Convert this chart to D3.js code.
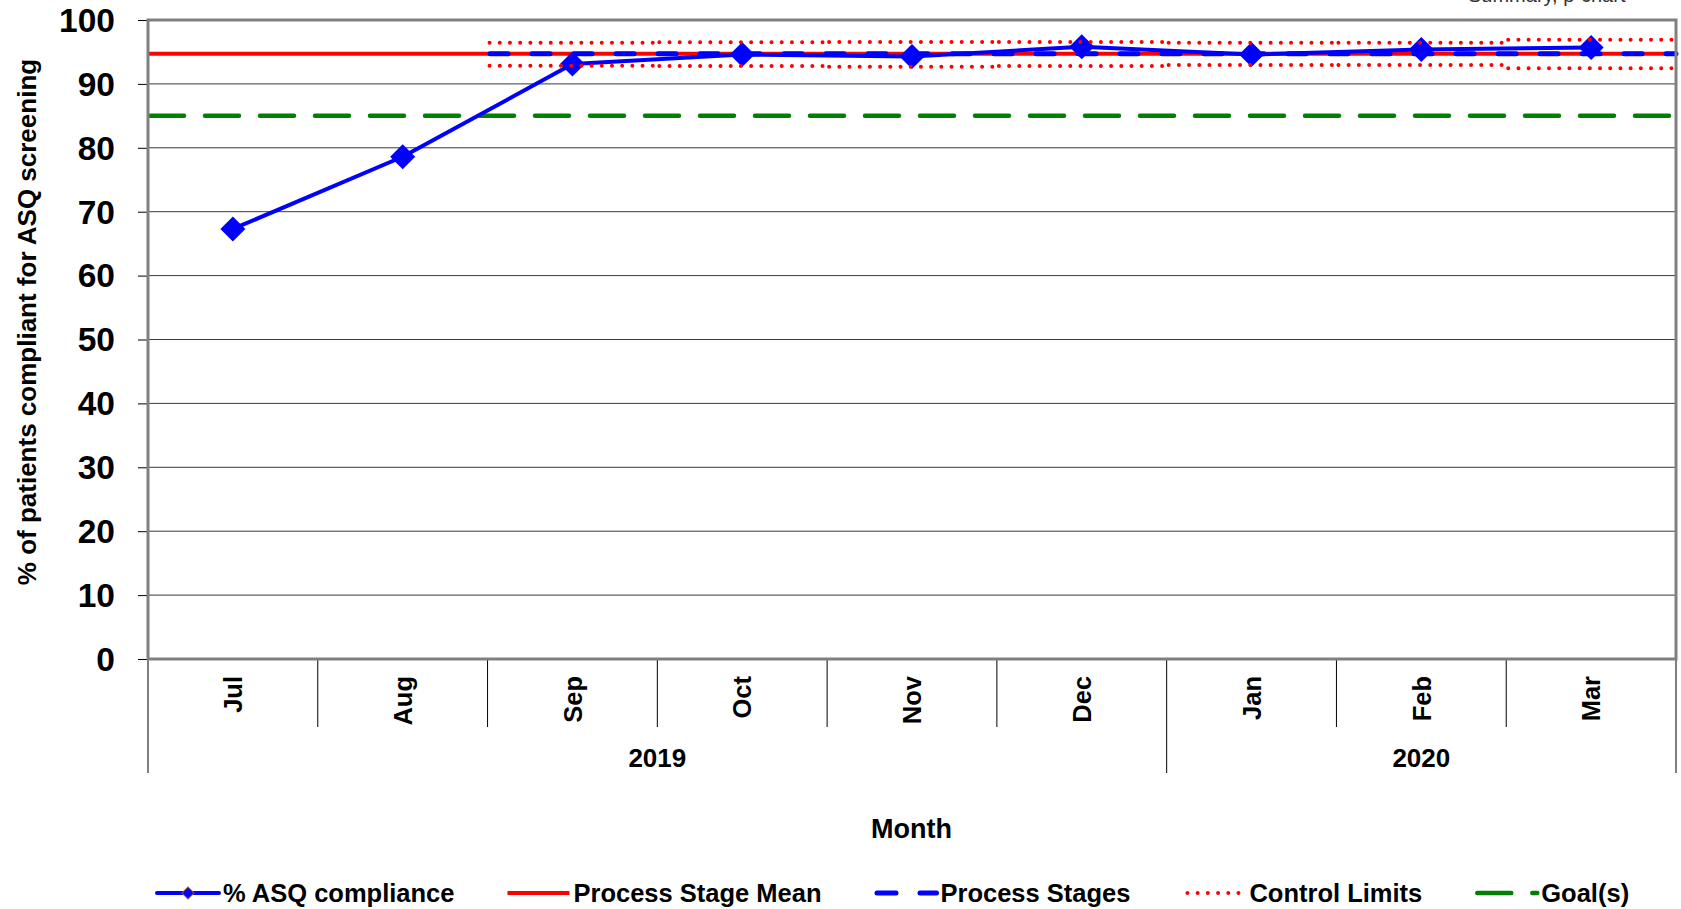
<!DOCTYPE html>
<html>
<head>
<meta charset="utf-8">
<script src="https://cdn.jsdelivr.net/npm/d3@7"></script>
<style>
  html, body { margin: 0; padding: 0; background: #fff; }
  svg { display: block; font-family: "Liberation Sans", Arial, sans-serif; }
</style>
</head>
<body>
<svg id="chart" width="1681" height="909"></svg>
<script>
// ---------------- data ----------------
const months = ["Jul", "Aug", "Sep", "Oct", "Nov", "Dec", "Jan", "Feb", "Mar"];
const years = ["2019", "2019", "2019", "2019", "2019", "2019", "2020", "2020", "2020"];
const compliance = [67.3, 78.6, 93.1, 94.6, 94.3, 95.8, 94.6, 95.4, 95.7];
const stageMonths = ["Sep", "Oct", "Nov", "Dec", "Jan", "Feb", "Mar"];
const upperLimits = [96.45, 96.5, 96.55, 96.55, 96.45, 96.45, 96.9];
const lowerLimits = [92.85, 92.8, 92.7, 92.8, 92.95, 92.95, 92.45];
const stageMean = 94.7;
const goal = 85;
const yTicks = [0, 10, 20, 30, 40, 50, 60, 70, 80, 90, 100];
const legendLabels = ["% ASQ compliance", "Process Stage Mean", "Process Stages", "Control Limits", "Goal(s)"];
const yTitle = "% of patients compliant for ASQ screening";
const xTitle = "Month";
const cornerNote = "Summary, p-chart";

// ---------------- layout ----------------
const svg = d3.select("#chart");
const L = 148, R = 1676, T = 20, B = 659;
const x = d3.scaleBand().domain(months).range([L, R]).padding(0);
const y = d3.scaleLinear().domain([0, 100]).range([B, T]);
const bw = x.bandwidth();
const cx = m => x(m) + bw / 2;
const FONT_BOLD = 700;

// corner note (cut off at the top, as in the source)
svg.append("text")
  .attr("x", 1468).attr("y", 1.5)
  .attr("text-anchor", "start")
  .attr("font-size", 20).attr("fill", "#333")
  .text(cornerNote);

// gridlines
svg.append("g").selectAll("line")
  .data(yTicks.filter(v => v > 0 && v < 100))
  .join("line")
  .attr("x1", L).attr("x2", R)
  .attr("y1", d => y(d)).attr("y2", d => y(d))
  .attr("stroke", "#3a3a3a").attr("stroke-width", 1);

// y axis ticks + labels
const yAxis = d3.axisLeft(y).tickValues(yTicks).tickSize(10).tickPadding(23).tickFormat(d3.format("d"));
const yg = svg.append("g").attr("transform", `translate(${L},0)`).call(yAxis);
yg.select(".domain").remove();
yg.selectAll(".tick line").attr("stroke", "#000").attr("stroke-width", 1);
yg.selectAll(".tick text")
  .attr("font-size", 33.5).attr("font-weight", FONT_BOLD)
  .attr("font-family", "'Liberation Sans', Arial, sans-serif")
  .attr("fill", "#000").attr("dy", "0.34em");

// category separators under x axis
const boundaries = d3.range(months.length + 1);
svg.append("g").selectAll("line")
  .data(boundaries)
  .join("line")
  .attr("x1", i => L + i * bw).attr("x2", i => L + i * bw)
  .attr("y1", B)
  .attr("y2", i => (i === 0 || i === months.length || years[i] !== years[i - 1]) ? 773 : 727)
  .attr("stroke", "#000").attr("stroke-width", 1);

// month labels
svg.append("g").selectAll("text")
  .data(months)
  .join("text")
  .attr("transform", d => `translate(${cx(d)},676) rotate(-90)`)
  .attr("text-anchor", "end")
  .attr("dy", "0.36em")
  .attr("font-size", 25.5).attr("font-weight", FONT_BOLD)
  .text(d => d);

// year labels
const yearGroups = d3.groups(months.map((m, i) => ({ m, yr: years[i] })), d => d.yr);
svg.append("g").selectAll("text")
  .data(yearGroups)
  .join("text")
  .attr("x", d => (x(d[1][0].m) + x(d[1][d[1].length - 1].m) + bw) / 2)
  .attr("y", 767)
  .attr("text-anchor", "middle")
  .attr("font-size", 26).attr("font-weight", FONT_BOLD)
  .text(d => d[0]);

// axis titles
svg.append("text")
  .attr("x", (L + R) / 2 - 0.5).attr("y", 838)
  .attr("text-anchor", "middle")
  .attr("font-size", 27).attr("font-weight", FONT_BOLD)
  .text(xTitle);
svg.append("text")
  .attr("transform", `translate(36,322) rotate(-90)`)
  .attr("text-anchor", "middle")
  .attr("font-size", 26).attr("font-weight", FONT_BOLD)
  .text(yTitle);

// goal line
svg.append("line")
  .attr("x1", L + 2).attr("x2", R)
  .attr("y1", y(goal)).attr("y2", y(goal))
  .attr("stroke", "#008000").attr("stroke-width", 4.5)
  .attr("stroke-dasharray", "34 21").attr("stroke-linecap", "round");

// process stage mean (red)
svg.append("line")
  .attr("x1", L).attr("x2", R)
  .attr("y1", y(stageMean)).attr("y2", y(stageMean))
  .attr("stroke", "#FF0000").attr("stroke-width", 4);

// process stages (blue dashed)
svg.append("line")
  .attr("x1", x(stageMonths[0]) + 2.5).attr("x2", R)
  .attr("y1", y(stageMean)).attr("y2", y(stageMean))
  .attr("stroke", "#0000FF").attr("stroke-width", 5)
  .attr("stroke-dasharray", "18 24").attr("stroke-linecap", "round");

// data line + markers
const line = d3.line().x((d, i) => cx(months[i])).y(d => y(d));
svg.append("path")
  .datum(compliance)
  .attr("d", line)
  .attr("fill", "none").attr("stroke", "#0000FF").attr("stroke-width", 4)
  .attr("stroke-linejoin", "round");
const diamond = d3.symbol(d3.symbolSquare, 312);
svg.append("g").selectAll("path")
  .data(compliance)
  .join("path")
  .attr("d", diamond)
  .attr("transform", (d, i) => `translate(${cx(months[i])},${y(d)}) rotate(45)`)
  .attr("fill", "#0000FF");

// control limits (red dotted, per month)
const limitSegs = stageMonths.flatMap((m, i) => [
  { m, v: upperLimits[i] },
  { m, v: lowerLimits[i] }
]);
svg.append("g").selectAll("line")
  .data(limitSegs)
  .join("line")
  .attr("x1", d => x(d.m) + 2).attr("x2", d => x(d.m) + bw)
  .attr("y1", d => y(d.v)).attr("y2", d => y(d.v))
  .attr("stroke", "#FF0000").attr("stroke-width", 4)
  .attr("stroke-dasharray", "0 10.2").attr("stroke-linecap", "round");

// plot frame
svg.append("rect")
  .attr("x", L).attr("y", T).attr("width", R - L).attr("height", B - T)
  .attr("fill", "none").attr("stroke", "#808080").attr("stroke-width", 3);

// ---------------- legend ----------------
const legY = 893;
const symW = 62;
let lx = 157;
const leg = svg.append("g");
legendLabels.forEach((label, k) => {
  const g = leg.append("g");
  const x0 = lx, x1 = lx + symW;
  if (k === 0) {
    g.append("line").attr("x1", x0).attr("x2", x1).attr("y1", legY).attr("y2", legY)
      .attr("stroke", "#0000FF").attr("stroke-width", 4).attr("stroke-linecap", "round");
    g.append("path").attr("d", d3.symbol(d3.symbolSquare, 72))
      .attr("transform", `translate(${(x0 + x1) / 2},${legY}) rotate(45)`)
      .attr("fill", "#0000FF").attr("stroke", "#A0522D").attr("stroke-width", 1);
  } else if (k === 1) {
    g.append("line").attr("x1", x0).attr("x2", x1).attr("y1", legY).attr("y2", legY)
      .attr("stroke", "#FF0000").attr("stroke-width", 4);
  } else if (k === 2) {
    g.append("line").attr("x1", x0 + 2.5).attr("x2", x1).attr("y1", legY).attr("y2", legY)
      .attr("stroke", "#0000FF").attr("stroke-width", 5)
      .attr("stroke-dasharray", "19 24").attr("stroke-linecap", "round");
  } else if (k === 3) {
    g.append("line").attr("x1", x0 + 4).attr("x2", x1).attr("y1", legY).attr("y2", legY)
      .attr("stroke", "#FF0000").attr("stroke-width", 4)
      .attr("stroke-dasharray", "0 10.2").attr("stroke-linecap", "round");
  } else {
    g.append("line").attr("x1", x0 + 2).attr("x2", x1).attr("y1", legY).attr("y2", legY)
      .attr("stroke", "#008000").attr("stroke-width", 4.5)
      .attr("stroke-dasharray", "34 21").attr("stroke-linecap", "round");
  }
  const t = g.append("text")
    .attr("x", x1 + 4).attr("y", legY).attr("dy", "0.36em")
    .attr("font-size", 25.5).attr("font-weight", FONT_BOLD)
    .text(label);
  lx = x1 + 4 + t.node().getComputedTextLength() + 53;
});
</script>
</body>
</html>
